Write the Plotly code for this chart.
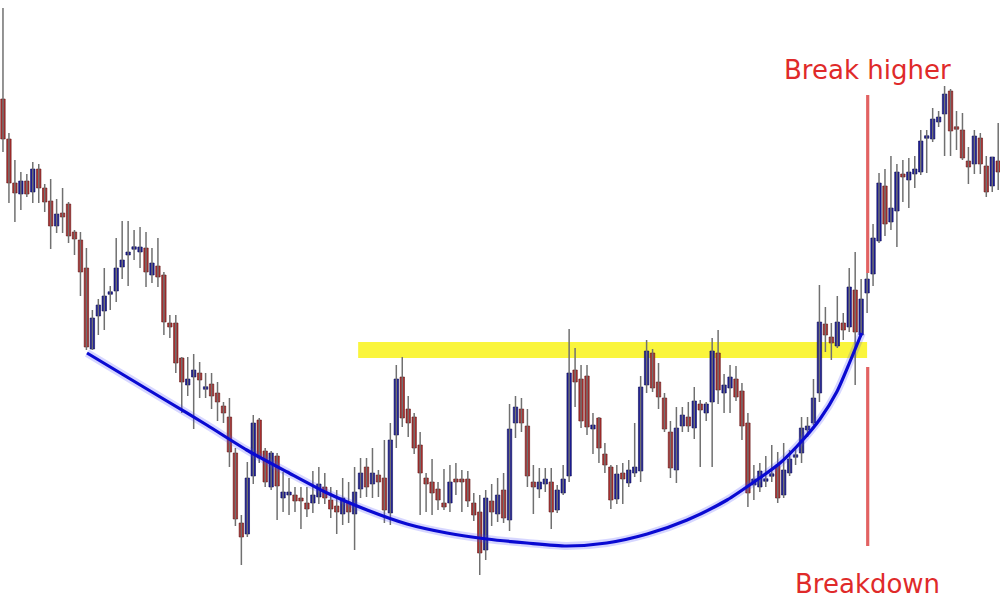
import plotly.graph_objects as go

# ---------------- data (price units) ----------------
open_ = [501,461,417,406,419,408,431,412,399,374,387,396,368,360,332,251,284,289,306,309,
         333,345,351,348,352,325,334,325,277,277,242,215,223,227,211,216,207,194,183,147,
         77,66,124,180,149,113,144,102,105,105,102,97,97,103,113,100,94,86,98,86,
         111,133,116,125,122,87,165,223,191,183,155,122,118,111,97,97,121,121,121,97,
         88,50,99,86,110,80,177,191,174,118,111,116,118,90,107,124,230,221,224,171,
         182,146,133,101,127,117,127,129,215,247,218,202,168,130,174,183,172,196,187,198,
         247,207,212,221,209,177,115,113,119,124,135,105,127,143,147,170,177,207,276,263,
         254,277,273,310,265,307,326,359,414,378,389,426,420,426,428,462,461,478,486,509,
         473,470,439,436,462,434,414,439]
high = [592,467,440,428,426,438,436,416,421,401,412,398,370,368,352,290,301,332,314,362,
        379,379,370,373,368,352,362,328,285,285,243,243,246,238,227,227,218,198,202,152,
        85,138,185,182,152,149,147,128,122,113,113,113,129,133,127,113,110,122,118,133,
        142,142,152,130,160,177,235,243,204,187,168,127,141,118,131,135,137,130,129,107,
        105,110,116,122,127,196,204,202,191,135,132,132,132,115,135,271,252,235,235,187,
        183,157,135,135,137,140,177,224,260,251,237,207,179,193,193,198,213,200,198,262,
        270,226,235,234,217,187,135,137,144,155,148,157,150,153,183,183,221,315,293,277,
        304,287,332,348,321,327,376,427,431,444,436,440,442,444,470,470,492,489,514,511,
        489,487,453,470,467,444,443,477]
low = [448,397,378,390,403,397,397,388,351,367,367,357,345,304,250,250,265,270,290,298,
       321,314,340,332,313,317,313,265,262,227,187,204,171,202,202,191,179,177,133,74,
       35,63,116,137,113,110,80,88,85,88,71,83,87,96,96,82,66,75,77,50,
       102,103,102,103,77,75,152,173,163,146,85,88,85,90,90,88,105,88,93,79,
       25,40,74,78,77,69,162,168,113,86,102,108,71,87,105,118,193,172,165,146,
       137,127,91,96,96,113,123,118,207,208,191,168,122,117,168,168,161,133,179,133,
       196,187,187,199,160,93,100,108,113,118,97,102,124,135,137,163,175,198,248,240,
       252,260,268,215,263,287,314,357,364,370,353,398,392,412,425,427,458,473,444,444,
       450,440,416,426,426,403,408,410]
close = [461,417,407,419,406,431,412,398,374,386,383,364,361,328,253,282,295,304,308,332,
         340,348,353,353,328,337,323,278,273,237,218,221,230,220,213,204,198,187,148,81,
         63,122,177,142,118,147,114,108,108,99,99,91,105,116,102,91,88,102,88,108,
         127,113,127,118,90,160,221,182,177,152,127,116,107,100,93,118,118,118,99,85,
         47,102,88,105,82,171,193,177,124,113,118,121,88,110,121,227,218,179,173,175,
         152,135,100,126,121,130,133,213,249,212,203,171,132,172,185,174,199,190,196,249,
         210,215,223,203,174,107,121,129,121,126,102,130,141,145,172,174,202,278,265,257,
         278,270,313,268,301,321,362,417,376,392,428,423,428,431,459,464,481,483,506,469,
         471,442,433,464,436,408,443,428]

# rounded-bottom ("cup") curve drawn on the chart: bar index / price
curve_idx = [14.1, 20.8, 27.5, 34.2, 40.9, 47.7, 54.4, 61.1, 67.8, 74.5, 81.2, 87.9,
             94.6, 101.3, 108.1, 114.8, 121.5, 126.5, 130.4, 134.2, 137.1, 139.9,
             142.1, 144.1]
curve_val = [247, 223, 199, 175, 150, 128, 107, 90, 76, 67, 61, 57,
             54, 57, 66, 80, 100, 120, 137, 160, 181, 208,
             238, 267]

# resistance band and breakout marker
band_start, band_end = 59.6, 145.0
band_lo, band_hi = 242, 258
break_idx = 145.1
upper_marker = (327, 505)
lower_marker = (54, 233)
label_top = ("Break higher", 530)
label_bottom = ("Breakdown", 16)

# ---------------- figure ----------------
n = len(open_)
idx = list(range(n))
STYLE = {True: ("#1E1E98", "#0C0C55"), False: ("#AD3030", "#5E1616")}

fig = go.Figure()

# yellow resistance band (behind candles)
fig.add_shape(type="rect", xref="x", yref="y", x0=band_start, x1=band_end,
              y0=band_lo, y1=band_hi, fillcolor="#FAF53C", line=dict(width=0),
              layer="below")

# wicks
wx, wy = [], []
for i in idx:
    wx += [i, i, None]
    wy += [low[i], high[i], None]
fig.add_trace(go.Scatter(x=wx, y=wy, mode="lines",
                         line=dict(color="#707070", width=1.5),
                         hoverinfo="skip", showlegend=False))

# bodies
for up in (True, False):
    fill, edge = STYLE[up]
    xs, base, h = [], [], []
    for i in idx:
        if (close[i] >= open_[i]) == up:
            lo_b = min(open_[i], close[i])
            hi_b = max(open_[i], close[i])
            size = max(hi_b - lo_b, 2.5)
            xs.append(i)
            base.append(lo_b if hi_b - lo_b >= 2.5 else (lo_b + hi_b) / 2 - 1.25)
            h.append(size)
    fig.add_trace(go.Bar(x=xs, y=h, base=base, width=0.74,
                         marker=dict(color=fill, line=dict(color=edge, width=0.6)),
                         showlegend=False, hoverinfo="skip"))

# cup curve glow + line
fig.add_trace(go.Scatter(x=curve_idx, y=curve_val, mode="lines",
                         line=dict(color="rgba(70,70,255,0.22)", width=8, shape="spline",
                                   smoothing=0.7),
                         hoverinfo="skip", showlegend=False))
fig.add_trace(go.Scatter(x=curve_idx, y=curve_val, mode="lines",
                         line=dict(color="#0A0AD2", width=3.2, shape="spline",
                                   smoothing=0.7),
                         hoverinfo="skip", showlegend=False))

# red breakout markers
for y0, y1 in (upper_marker, lower_marker):
    fig.add_shape(type="line", xref="x", yref="y", x0=break_idx, x1=break_idx,
                  y0=y0, y1=y1, line=dict(color="#E26262", width=3.2))

for txt, yv in (label_top, label_bottom):
    fig.add_annotation(x=break_idx, y=yv, text=txt, showarrow=False,
                       xanchor="center", yanchor="middle",
                       font=dict(family="DejaVu Sans", size=26, color="#DF2A2A"))

fig.update_layout(
    width=1000, height=600,
    margin=dict(l=0, r=0, t=0, b=0),
    paper_bgcolor="white", plot_bgcolor="white",
    barmode="overlay", showlegend=False,
    xaxis=dict(range=[-0.5, 167.3], visible=False, fixedrange=True),
    yaxis=dict(range=[0, 600], visible=False, fixedrange=True),
)

fig.write_html("out.html", config={"displayModeBar": False},
               post_script="document.body.style.margin='0';document.body.style.overflow='hidden';")
